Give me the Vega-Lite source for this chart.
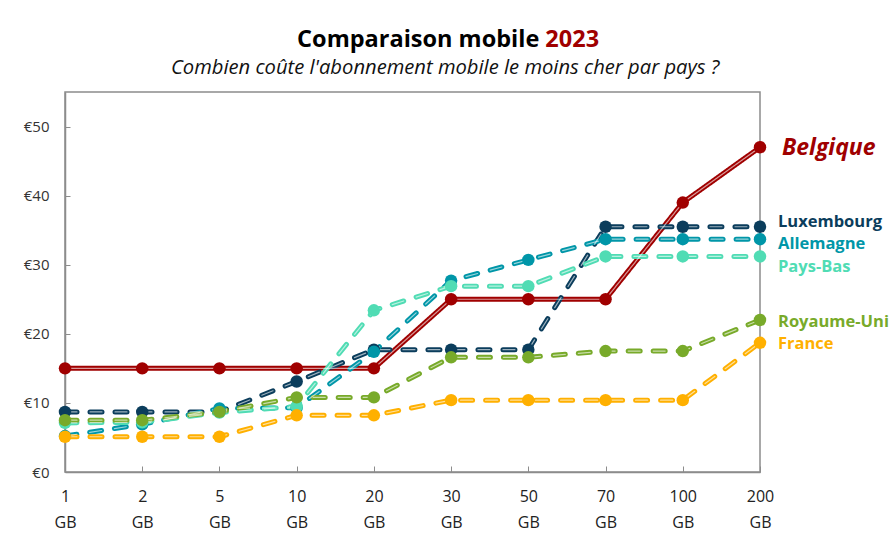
{
  "$schema": "https://vega.github.io/schema/vega-lite/v6.json",
  "width": 695,
  "height": 380,
  "autosize": {"type": "none"},
  "padding": {"left": 65, "top": 92, "right": 131, "bottom": 69},
  "background": "white",
  "config": {"font": "Open Sans", "view": {"stroke": "#8c8c8c", "strokeWidth": 1.5}},
  "datasets": {
    "prix": [
      {"gb": "1 GB", "pays": "Belgique", "prix": 15}, {"gb": "2 GB", "pays": "Belgique", "prix": 15}, {"gb": "5 GB", "pays": "Belgique", "prix": 15}, {"gb": "10 GB", "pays": "Belgique", "prix": 15}, {"gb": "20 GB", "pays": "Belgique", "prix": 15}, {"gb": "30 GB", "pays": "Belgique", "prix": 25}, {"gb": "50 GB", "pays": "Belgique", "prix": 25}, {"gb": "70 GB", "pays": "Belgique", "prix": 25}, {"gb": "100 GB", "pays": "Belgique", "prix": 39}, {"gb": "200 GB", "pays": "Belgique", "prix": 47},
      {"gb": "1 GB", "pays": "Luxembourg", "prix": 8.7}, {"gb": "2 GB", "pays": "Luxembourg", "prix": 8.7}, {"gb": "5 GB", "pays": "Luxembourg", "prix": 8.7}, {"gb": "10 GB", "pays": "Luxembourg", "prix": 13.1}, {"gb": "20 GB", "pays": "Luxembourg", "prix": 17.7}, {"gb": "30 GB", "pays": "Luxembourg", "prix": 17.7}, {"gb": "50 GB", "pays": "Luxembourg", "prix": 17.7}, {"gb": "70 GB", "pays": "Luxembourg", "prix": 35.5}, {"gb": "100 GB", "pays": "Luxembourg", "prix": 35.5}, {"gb": "200 GB", "pays": "Luxembourg", "prix": 35.5},
      {"gb": "1 GB", "pays": "Allemagne", "prix": 5.2}, {"gb": "2 GB", "pays": "Allemagne", "prix": 6.9}, {"gb": "5 GB", "pays": "Allemagne", "prix": 9.2}, {"gb": "10 GB", "pays": "Allemagne", "prix": 9.3}, {"gb": "20 GB", "pays": "Allemagne", "prix": 17.4}, {"gb": "30 GB", "pays": "Allemagne", "prix": 27.7}, {"gb": "50 GB", "pays": "Allemagne", "prix": 30.7}, {"gb": "70 GB", "pays": "Allemagne", "prix": 33.7}, {"gb": "100 GB", "pays": "Allemagne", "prix": 33.7}, {"gb": "200 GB", "pays": "Allemagne", "prix": 33.7},
      {"gb": "1 GB", "pays": "Pays-Bas", "prix": 7.1}, {"gb": "2 GB", "pays": "Pays-Bas", "prix": 7.2}, {"gb": "5 GB", "pays": "Pays-Bas", "prix": 8.6}, {"gb": "10 GB", "pays": "Pays-Bas", "prix": 9.5}, {"gb": "20 GB", "pays": "Pays-Bas", "prix": 23.4}, {"gb": "30 GB", "pays": "Pays-Bas", "prix": 26.9}, {"gb": "50 GB", "pays": "Pays-Bas", "prix": 26.9}, {"gb": "70 GB", "pays": "Pays-Bas", "prix": 31.2}, {"gb": "100 GB", "pays": "Pays-Bas", "prix": 31.2}, {"gb": "200 GB", "pays": "Pays-Bas", "prix": 31.2},
      {"gb": "1 GB", "pays": "Royaume-Uni", "prix": 7.5}, {"gb": "2 GB", "pays": "Royaume-Uni", "prix": 7.5}, {"gb": "5 GB", "pays": "Royaume-Uni", "prix": 8.7}, {"gb": "10 GB", "pays": "Royaume-Uni", "prix": 10.8}, {"gb": "20 GB", "pays": "Royaume-Uni", "prix": 10.8}, {"gb": "30 GB", "pays": "Royaume-Uni", "prix": 16.6}, {"gb": "50 GB", "pays": "Royaume-Uni", "prix": 16.6}, {"gb": "70 GB", "pays": "Royaume-Uni", "prix": 17.5}, {"gb": "100 GB", "pays": "Royaume-Uni", "prix": 17.5}, {"gb": "200 GB", "pays": "Royaume-Uni", "prix": 22},
      {"gb": "1 GB", "pays": "France", "prix": 5.1}, {"gb": "2 GB", "pays": "France", "prix": 5.1}, {"gb": "5 GB", "pays": "France", "prix": 5.1}, {"gb": "10 GB", "pays": "France", "prix": 8.2}, {"gb": "20 GB", "pays": "France", "prix": 8.2}, {"gb": "30 GB", "pays": "France", "prix": 10.4}, {"gb": "50 GB", "pays": "France", "prix": 10.4}, {"gb": "70 GB", "pays": "France", "prix": 10.4}, {"gb": "100 GB", "pays": "France", "prix": 10.4}, {"gb": "200 GB", "pays": "France", "prix": 18.7}
    ],
    "labels": [
      {"pays": "Belgique", "label_y": 46.9},
      {"pays": "Luxembourg", "label_y": 36.2},
      {"pays": "Allemagne", "label_y": 33.0},
      {"pays": "Pays-Bas", "label_y": 29.7},
      {"pays": "Royaume-Uni", "label_y": 21.7},
      {"pays": "France", "label_y": 18.5}
    ],
    "heading": [
      {"role": "titre", "part": "Comparaison mobile", "anchor_gb": "50 GB", "anchor_y": 61.5},
      {"role": "annee", "part": "2023", "anchor_gb": "50 GB", "anchor_y": 61.5},
      {"role": "soustitre", "part": "Combien coûte l'abonnement mobile le moins cher par pays ?", "anchor_gb": "30 GB", "anchor_y": 57.6}
    ]
  },
  "encoding": {
    "x": {"field": "gb", "type": "ordinal", "scale": {"type": "point", "padding": 0, "domain": ["1 GB", "2 GB", "5 GB", "10 GB", "20 GB", "30 GB", "50 GB", "70 GB", "100 GB", "200 GB"]},
      "axis": {"title": null, "labelAngle": 0, "labelExpr": "split(datum.value, ' ')", "tickSize": -6, "tickColor": "#8c8c8c", "domainColor": "#8c8c8c", "domainWidth": 1.5, "labelPadding": 22, "labelFontSize": 16, "labelLineHeight": 26, "labelColor": "#222222", "grid": false}},
    "y": {"field": "prix", "type": "quantitative", "scale": {"domain": [0, 55], "nice": false},
      "axis": {"title": null, "values": [0, 10, 20, 30, 40, 50], "labelExpr": "'€' + datum.value", "tickSize": -5, "tickColor": "#8c8c8c", "domainColor": "#8c8c8c", "domainWidth": 1.5, "labelPadding": 21, "labelFontSize": 15, "labelColor": "#333333", "grid": false}},
    "color": {"field": "pays", "type": "nominal", "legend": null, "scale": {"domain": ["Belgique", "Luxembourg", "Allemagne", "Pays-Bas", "Royaume-Uni", "France"], "range": ["#a00000", "#0b3d5c", "#0096a8", "#50dcb4", "#78aa2a", "#ffb000"]}}
  },
  "layer": [
    {
      "data": {"name": "prix"},
      "mark": {"type": "line", "strokeWidth": 5, "strokeCap": "round"},
      "encoding": {
        "strokeDash": {"field": "pays", "type": "nominal", "legend": null, "scale": {"domain": ["Belgique", "Luxembourg", "Allemagne", "Pays-Bas", "Royaume-Uni", "France"], "range": [[1, 0], [12, 13], [12, 13], [12, 13], [12, 13], [12, 13]]}}
      }
    },
    {
      "data": {"name": "prix"},
      "mark": {"type": "line", "strokeWidth": 1.2, "strokeCap": "round", "color": "white", "opacity": 0.6},
      "encoding": {
        "color": {"value": "white"},
        "detail": {"field": "pays", "type": "nominal"},
        "strokeDash": {"field": "pays", "type": "nominal", "legend": null, "scale": {"domain": ["Belgique", "Luxembourg", "Allemagne", "Pays-Bas", "Royaume-Uni", "France"], "range": [[1, 0], [12, 13], [12, 13], [12, 13], [12, 13], [12, 13]]}}
      }
    },
    {
      "data": {"name": "prix"},
      "mark": {"type": "circle", "size": 155, "opacity": 1}
    },
    {
      "data": {"name": "heading"},
      "transform": [{"filter": "datum.role === 'titre'"}],
      "mark": {"type": "text", "align": "right", "baseline": "alphabetic", "dx": 11, "fontSize": 23.5, "fontWeight": "bold", "clip": false},
      "encoding": {"x": {"field": "anchor_gb", "type": "ordinal"}, "y": {"field": "anchor_y", "type": "quantitative"}, "text": {"field": "part", "type": "nominal"}, "color": {"value": "#000000"}}
    },
    {
      "data": {"name": "heading"},
      "transform": [{"filter": "datum.role === 'annee'"}],
      "mark": {"type": "text", "align": "left", "baseline": "alphabetic", "dx": 17, "fontSize": 23.5, "fontWeight": "bold", "clip": false},
      "encoding": {"x": {"field": "anchor_gb", "type": "ordinal"}, "y": {"field": "anchor_y", "type": "quantitative"}, "text": {"field": "part", "type": "nominal"}, "color": {"value": "#a00000"}}
    },
    {
      "data": {"name": "heading"},
      "transform": [{"filter": "datum.role === 'soustitre'"}],
      "mark": {"type": "text", "align": "center", "baseline": "alphabetic", "dx": -6, "fontSize": 20.2, "fontStyle": "italic", "clip": false},
      "encoding": {"x": {"field": "anchor_gb", "type": "ordinal"}, "y": {"field": "anchor_y", "type": "quantitative"}, "text": {"field": "part", "type": "nominal"}, "color": {"value": "#111111"}}
    },
    {
      "data": {"name": "labels"},
      "transform": [{"filter": "datum.pays === 'Belgique'"}],
      "mark": {"type": "text", "align": "left", "baseline": "middle", "dx": 22, "fontSize": 23, "fontWeight": "bold", "fontStyle": "italic", "clip": false},
      "encoding": {"x": {"datum": "200 GB"}, "y": {"field": "label_y", "type": "quantitative"}, "text": {"field": "pays"}}
    },
    {
      "data": {"name": "labels"},
      "transform": [{"filter": "datum.pays !== 'Belgique'"}],
      "mark": {"type": "text", "align": "left", "baseline": "middle", "dx": 18, "fontSize": 16.5, "fontWeight": "bold", "clip": false},
      "encoding": {"x": {"datum": "200 GB"}, "y": {"field": "label_y", "type": "quantitative"}, "text": {"field": "pays"}}
    }
  ]
}
